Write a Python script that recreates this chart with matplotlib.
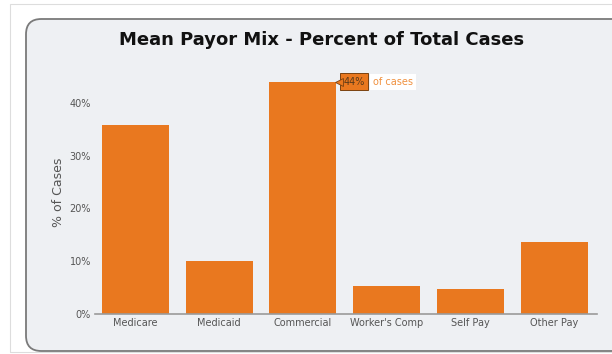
import matplotlib
matplotlib.use("Agg")
import matplotlib.pyplot as plt
from matplotlib.patches import FancyBboxPatch, Rectangle
from matplotlib.ticker import FuncFormatter
from matplotlib.transforms import offset_copy

# Mean payor mix as a share of total cases (%)
categories = ["Medicare", "Medicaid", "Commercial", "Worker's Comp", "Self Pay", "Other Pay"]
pct_cases = [35.8, 10.0, 44.0, 5.3, 4.7, 13.6]
y_ticks = [0, 10, 20, 30, 40]
highlight_idx = 2

ORANGE = "#E9781F"
PANEL = "#EEF0F3"
TEXT = "#555555"

W, H = 612, 354
fig = plt.figure(figsize=(W / 100, H / 100), dpi=100)
fig.patch.set_facecolor("white")

def px(x, y):
    return x / W, 1 - y / H

# faint outer frame
fig.add_artist(Rectangle(px(10, 352), 610 / W, 348 / H, transform=fig.transFigure,
                         fill=False, ec="#dddddd", lw=0.8, zorder=-2))
# rounded chart panel (runs off the right edge)
x0, y0 = px(26, 351)
fig.add_artist(FancyBboxPatch((x0, y0), (W + 40 - 26) / W, (351 - 19) / H,
                              boxstyle="round,pad=0,rounding_size=0.025",
                              transform=fig.transFigure, fc=PANEL, ec="#7a7a7a",
                              lw=1.3, mutation_aspect=W / H, zorder=-1))

ax = fig.add_axes([95 / W, 40 / H, (597 - 95) / W, 244 / H])
ax.set_facecolor("none")

xs = range(len(categories))
ax.bar(xs, pct_cases, width=0.8, color=ORANGE, zorder=2)

ax.set_xlim(-0.48, 5.51)
ax.set_ylim(0, 46.2)
ax.set_yticks(y_ticks)
ax.yaxis.set_major_formatter(FuncFormatter(lambda v, _: f"{v:.0f}%"))
ax.set_xticks(list(xs))
ax.set_xticklabels(categories)
ax.tick_params(axis="x", length=0, pad=3, labelsize=7, labelcolor=TEXT)
ax.tick_params(axis="y", length=0, pad=3, labelsize=7, labelcolor=TEXT)
for side in ("top", "right", "left"):
    ax.spines[side].set_visible(False)
ax.spines["bottom"].set_color("#9a9a9a")
ax.spines["bottom"].set_linewidth(1.2)
ax.set_ylabel("% of Cases", fontsize=9, color=TEXT, labelpad=3)

# tooltip-style callout on the tallest bar
val = pct_cases[highlight_idx]
tip_x = highlight_idx + 0.4
ax.plot([tip_x], [val], marker="<", ms=5.5, color=ORANGE, mec="#7a4210", mew=0.6,
        clip_on=False, zorder=7,
        transform=offset_copy(ax.transData, fig=fig, x=2.0, y=0, units="points"))
ax.annotate(f"{val:.0f}%", xy=(tip_x, val), xytext=(5, 0),
            textcoords="offset points", ha="left", va="center",
            fontsize=7, color="#5a3a1a", zorder=6,
            bbox=dict(boxstyle="square,pad=0.35", fc=ORANGE, ec="#7a4210", lw=0.7))
ax.annotate("of cases", xy=(tip_x, val), xytext=(26.5, 0),
            textcoords="offset points", ha="left", va="center",
            fontsize=7, color="#F0913F", zorder=5,
            bbox=dict(boxstyle="square,pad=0.3", fc="white", ec="none"))

fig.text(322 / W, 1 - 40 / H, "Mean Payor Mix - Percent of Total Cases",
         ha="center", va="center", fontsize=13, fontweight="bold", color="#111111")

fig.savefig("out.png", dpi=100, facecolor="white")
